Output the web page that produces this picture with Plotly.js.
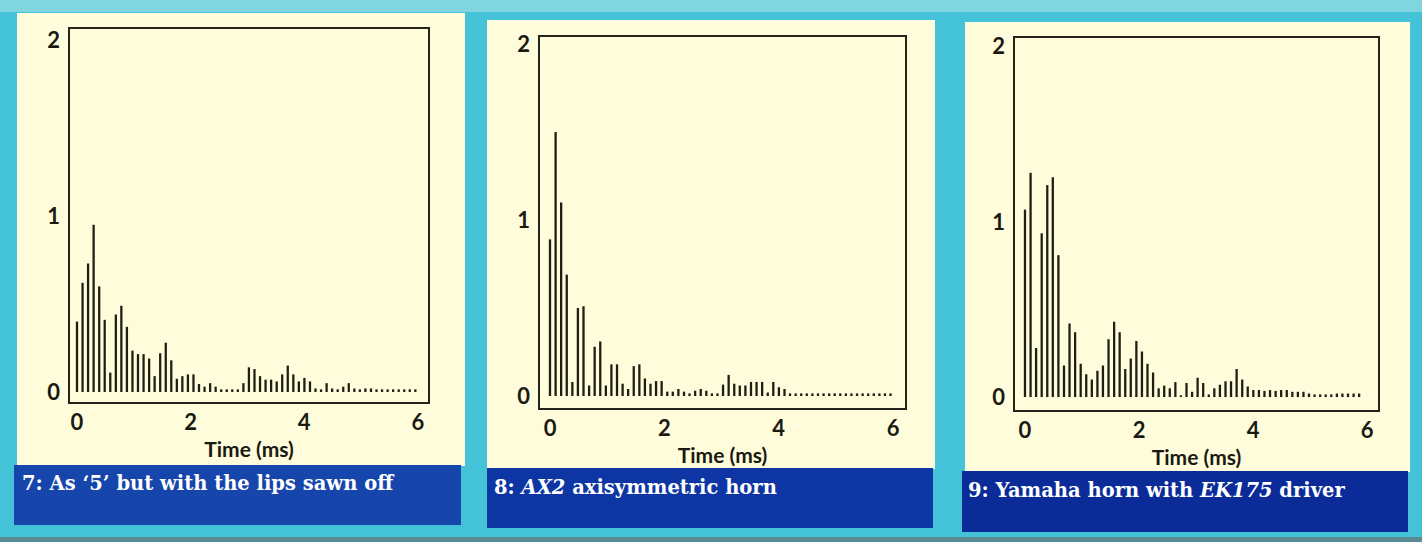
<!DOCTYPE html>
<html><head><meta charset="utf-8">
<script src="https://cdn.plot.ly/plotly-3.0.1.min.js"></script>
<style>html,body{margin:0;padding:0;background:#44c2d8;overflow:hidden;} #chart{width:1422px;height:542px;}</style>
</head><body><div id="chart"></div>
<script>
// Sample times (ms), one impulse every ~0.098 ms
const timeMs = [0,0.098,0.195,0.293,0.391,0.488,0.586,0.684,0.781,0.879,
  0.977,1.074,1.172,1.270,1.367,1.465,1.563,1.660,1.758,1.855,
  1.953,2.051,2.148,2.246,2.344,2.441,2.539,2.637,2.734,2.832,
  2.930,3.027,3.125,3.223,3.320,3.418,3.516,3.613,3.711,3.809,
  3.906,4.004,4.102,4.199,4.297,4.395,4.492,4.590,4.688,4.785,
  4.883,4.980,5.078,5.176,5.273,5.371,5.469,5.566,5.664,5.762,
  5.859,5.957];

// 7: As '5' but with the lips sawn off
const lipsSawnOff = [0.40,0.62,0.73,0.95,0.60,0.41,0.11,0.44,0.49,0.37,
  0.235,0.215,0.215,0.19,0.09,0.22,0.28,0.18,0.075,0.09,
  0.10,0.10,0.045,0.03,0.05,0.03,0.015,0.015,0.015,0.015,
  0.05,0.14,0.13,0.09,0.07,0.07,0.06,0.10,0.15,0.10,
  0.06,0.08,0.06,0.02,0.015,0.05,0.02,0.015,0.03,0.05,
  0.02,0.015,0.02,0.02,0.015,0.015,0.015,0.015,0.015,0.015,
  0.015,0.015];

// 8: AX2 axisymmetric horn
const ax2Horn = [0.89,1.50,1.10,0.69,0.08,0.50,0.51,0.06,0.28,0.31,
  0.06,0.18,0.18,0.07,0.04,0.17,0.18,0.10,0.07,0.085,
  0.085,0.025,0.025,0.04,0.025,0.015,0.03,0.04,0.03,0.015,
  0.015,0.065,0.12,0.07,0.06,0.06,0.08,0.08,0.08,0.02,
  0.08,0.05,0.04,0.015,0.015,0.015,0.015,0.015,0.015,0.015,
  0.015,0.015,0.015,0.015,0.015,0.015,0.015,0.015,0.015,0.015,
  0.015,0.015];

// 9: Yamaha horn with EK175 driver
const yamahaEK175 = [1.07,1.28,0.28,0.935,1.21,1.255,0.81,0.18,0.42,0.37,
  0.19,0.13,0.10,0.15,0.18,0.33,0.43,0.37,0.16,0.22,
  0.32,0.26,0.19,0.14,0.05,0.065,0.05,0.085,0.01,0.08,
  0.03,0.11,0.08,0.015,0.05,0.07,0.09,0.09,0.16,0.10,
  0.06,0.04,0.04,0.035,0.04,0.035,0.04,0.04,0.03,0.03,
  0.03,0.02,0.015,0.015,0.015,0.015,0.02,0.02,0.02,0.02,
  0.02,0];

const xTickVals = [0,2,4,6];
const xTickText = ["0","2","4","6"];
const yTickVals = [0,1,2];
const yTickText = ["0","1","2"];
const xAxisTitle = "Time (ms)";
const captions = [
  "7: As \u20185\u2019 but with the lips sawn off",
  "8: <i>AX2</i> axisymmetric horn",
  "9: Yamaha horn with <i>EK175</i> driver"
];

const W = 1422, H = 542;
const px = v => v / W;
const py = v => 1 - v / H;

const barColor = '#1d1e14';
const frameColor = '#23251a';
const cream = '#fffcdb';
const tickFont = {family: 'Lato, "Open Sans", sans-serif', size: 22, color: '#1a1a12', weight: 700};
const titleFont = {family: 'Lato, "Open Sans", sans-serif', size: 21, color: '#1a1a12', weight: 700};

function bars(y, xa, ya) {
  return {type: 'bar', x: timeMs, y: y, xaxis: xa, yaxis: ya, width: 0.04,
    marker: {color: barColor, line: {width: 0}}, hoverinfo: 'x+y', showlegend: false};
}

const data = [
  bars(lipsSawnOff, 'x', 'y'),
  bars(ax2Horn, 'x2', 'y2'),
  bars(yamahaEK175, 'x3', 'y3')
];

function xax(l, r, range, anchor) {
  return {domain: [px(l), px(r)], range: range, anchor: anchor,
    showline: true, mirror: true, linecolor: frameColor, linewidth: 1.6,
    showgrid: false, zeroline: false, ticks: '', tickvals: xTickVals, ticktext: xTickText,
    tickfont: tickFont, ticklabelstandoff: 0, fixedrange: true,
    title: {text: xAxisTitle, font: titleFont, standoff: 8}};
}
function yax(b, t, range, anchor) {
  return {domain: [py(b), py(t)], range: range, anchor: anchor,
    showline: true, mirror: true, linecolor: frameColor, linewidth: 1.6,
    showgrid: false, zeroline: false, ticks: '', tickvals: yTickVals, ticktext: yTickText,
    tickfont: tickFont, ticklabelstandoff: 4, fixedrange: true};
}

const shapes = [
  {type:'rect', xref:'paper', yref:'paper', x0:0, x1:1, y0:py(12), y1:1, fillcolor:'#80d6de', line:{width:0}, layer:'below'},
  {type:'rect', xref:'paper', yref:'paper', x0:0, x1:1, y0:0, y1:py(537), fillcolor:'#5a8a92', line:{width:0}, layer:'below'},
  {type:'rect', xref:'paper', yref:'paper', x0:px(17), x1:px(465), y0:py(466), y1:py(13), fillcolor:cream, line:{width:0}, layer:'below'},
  {type:'rect', xref:'paper', yref:'paper', x0:px(487), x1:px(935), y0:py(469), y1:py(20), fillcolor:cream, line:{width:0}, layer:'below'},
  {type:'rect', xref:'paper', yref:'paper', x0:px(965), x1:px(1410), y0:py(472), y1:py(22), fillcolor:cream, line:{width:0}, layer:'below'},
  {type:'rect', xref:'paper', yref:'paper', x0:px(14), x1:px(461), y0:py(525), y1:py(465), fillcolor:'#1646ac', line:{width:0}, layer:'below'},
  {type:'rect', xref:'paper', yref:'paper', x0:px(487), x1:px(933), y0:py(528), y1:py(468), fillcolor:'#0d36a4', line:{width:0}, layer:'below'},
  {type:'rect', xref:'paper', yref:'paper', x0:px(962), x1:px(1408), y0:py(532), y1:py(471), fillcolor:'#0a2b98', line:{width:0}, layer:'below'}
];

const capFont = {family: '"DejaVu Serif", "Liberation Serif", serif', size: 19.5, color: '#ffffff', weight: 700};
const annotations = [
  {x: px(20), y: py(483), text: captions[0]},
  {x: px(492), y: py(487), text: captions[1]},
  {x: px(966), y: py(490), text: captions[2]}
].map(a => Object.assign({xref:'paper', yref:'paper', xanchor:'left', yanchor:'middle', showarrow:false, font: capFont}, a));

const layout = {
  width: W, height: H,
  margin: {l:0, r:0, t:0, b:0},
  paper_bgcolor: '#44c2d8',
  plot_bgcolor: 'rgba(0,0,0,0)',
  showlegend: false,
  xaxis: xax(70, 428, [-0.123, 6.18], 'y'),
  yaxis: yax(402, 29, [-0.057, 2.0625], 'x'),
  xaxis2: xax(540, 905, [-0.175, 6.21], 'y2'),
  yaxis2: yax(408, 37, [-0.068, 2.04], 'x2'),
  xaxis3: xax(1015, 1378, [-0.175, 6.19], 'y3'),
  yaxis3: yax(410, 38, [-0.074, 2.05], 'x3'),
  shapes: shapes,
  annotations: annotations
};

Plotly.newPlot('chart', data, layout, {displayModeBar: false, staticPlot: true});
</script>
</body></html>
